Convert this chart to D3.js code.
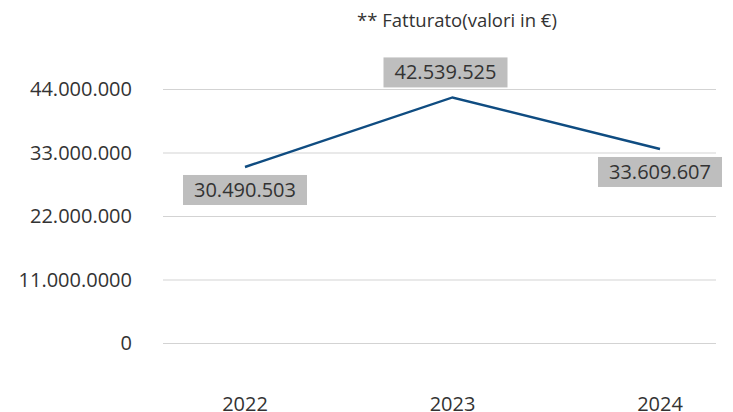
<!DOCTYPE html>
<html lang="it">
<head>
<meta charset="UTF-8">
<title>Fatturato</title>
<script src="https://d3js.org/d3.v7.min.js"></script>
<style>
  body { margin: 0; background: #fff; }
  svg text { font-family: "Open Sans", Lato, sans-serif; fill: #333; }
</style>
</head>
<body>
<svg id="chart" width="733" height="412"></svg>
<script>
const years = ["2022", "2023", "2024"];
const fatturato = [30490503, 42539525, 33609607];
const valueLabels = ["30.490.503", "42.539.525", "33.609.607"];
const tickValues = [0, 11000000, 22000000, 33000000, 44000000];
const tickLabels = ["0", "11.000.0000", "22.000.000", "33.000.000", "44.000.000"];
const labelSide = ["below", "above", "below"];

const svg = d3.select("#chart");

const x = d3.scalePoint().domain(years).range([245, 660]);
const y = d3.scaleLinear().domain([0, 44000000]).range([343, 89]);

// titolo
svg.append("text")
    .attr("x", 457)
    .attr("y", 21)
    .attr("dy", "0.35em")
    .attr("text-anchor", "middle")
    .style("font-size", "18.5px")
    .text("** Fatturato(valori in €)");

// griglia
svg.append("g")
    .selectAll("line")
    .data(tickValues)
    .join("line")
    .attr("x1", 163)
    .attr("x2", 716)
    .attr("y1", d => y(d) + 0.5)
    .attr("y2", d => y(d) + 0.5)
    .attr("stroke", "#d3d3d3")
    .attr("stroke-width", 1);

// etichette asse y
svg.append("g")
    .selectAll("text")
    .data(tickValues)
    .join("text")
    .attr("x", 132)
    .attr("y", d => y(d))
    .attr("dy", "0.35em")
    .attr("text-anchor", "end")
    .style("font-size", "20px")
    .text((d, i) => tickLabels[i]);

// etichette asse x
svg.append("g")
    .selectAll("text")
    .data(years)
    .join("text")
    .attr("x", d => x(d))
    .attr("y", 404)
    .attr("dy", "0.35em")
    .attr("text-anchor", "middle")
    .style("font-size", "20px")
    .text(d => d);

// linea
const line = d3.line()
    .x((d, i) => x(years[i]))
    .y(d => y(d));

svg.append("path")
    .datum(fatturato)
    .attr("d", line)
    .attr("fill", "none")
    .attr("stroke", "#0f4c81")
    .attr("stroke-width", 2.5);

// etichette valori
const labels = svg.append("g")
    .selectAll("g")
    .data(fatturato)
    .join("g")
    .attr("transform", (d, i) => {
        const cx = x(years[i]) + (labelSide[i] === "above" ? -7 : 0);
        const cy = y(d) + (labelSide[i] === "above" ? -25 : 23);
        return `translate(${cx},${cy})`;
    });

labels.append("rect")
    .attr("x", -62)
    .attr("y", -15)
    .attr("width", 124)
    .attr("height", 30)
    .attr("fill", "#bebebe");

labels.append("text")
    .attr("text-anchor", "middle")
    .attr("dy", "0.35em")
    .style("font-size", "20px")
    .text((d, i) => valueLabels[i]);
</script>
</body>
</html>
